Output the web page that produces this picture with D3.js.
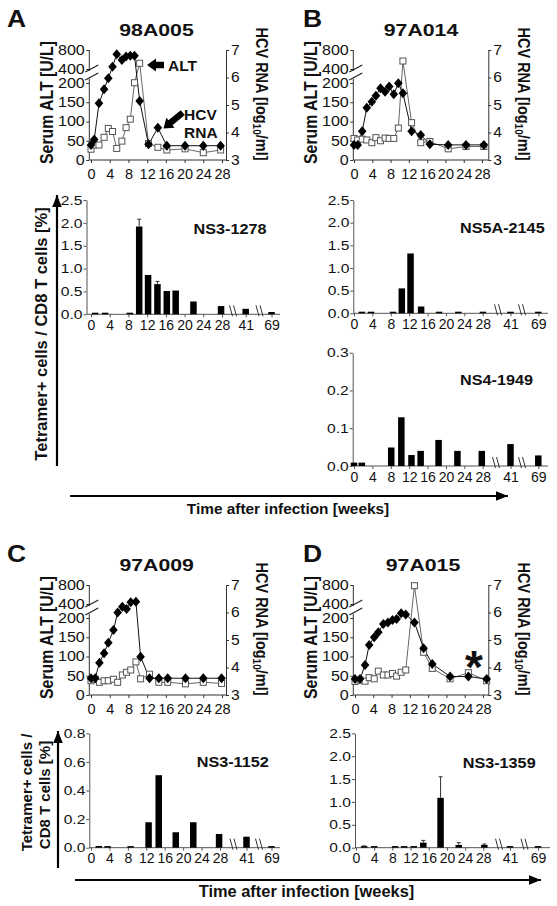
<!DOCTYPE html>
<html><head><meta charset="utf-8">
<script src="https://cdn.jsdelivr.net/npm/d3@7"></script>
<style>body{margin:0;background:#fff}svg{display:block}</style>
</head><body>
<svg id="fig" width="557" height="906"></svg>
<script>
// ---------------- DATA ----------------
const altTicks = [0, 50, 100, 150, 200, 400, 800];
const rnaTicks = [3, 4, 5, 6, 7];
const weekTicks = [0, 4, 8, 12, 16, 20, 24, 28];
const barTicks = [0, 4, 8, 12, 16, 20, 24, 28, 41, 69];

// Panel A (98A005)
const weeksA = [0, 0.7, 1.7, 2.8, 3.7, 4.6, 5.5, 6.6, 7.5, 8.4, 9.3, 10.4, 12.3, 14.3, 16.2, 20.1, 24, 27.7];
const rnaA = [3.55, 3.75, 5.06, 5.57, 5.97, 6.39, 6.85, 6.64, 6.76, 6.79, 6.79, 5.15, 3.57, 4.17, 3.52, 3.52, 3.52, 3.52];
const altA = [28, 39, 39, 59, 82, 74, 30, 49, 84, 106, 204, 520, 43, 33, 26, 29, 19, 26];
// Panel B (97A014)
const weeksB = [0, 0.8, 1.8, 2.8, 3.9, 4.8, 5.8, 6.8, 7.7, 8.7, 9.7, 10.7, 12.6, 14.6, 16.6, 20.6, 24.5, 28.4];
const rnaB = [3.55, 3.55, 4.05, 4.9, 5.12, 5.34, 5.61, 5.48, 5.67, 5.39, 5.79, 5.43, 4.05, 3.91, 3.57, 3.55, 3.55, 3.55];
const altB = [56, 52, 54, 52, 45, 58, 50, 57, 56, 56, 83, 568, 97, 45, 48, 29, 35, 35];
// Panel C (97A009)
const weeksC = [0, 0.9, 1.8, 2.8, 3.7, 4.8, 5.7, 6.7, 7.6, 8.5, 9.6, 10.6, 12.5, 14.5, 16.4, 20.2, 24, 27.9];
const rnaC = [3.61, 3.61, 4.17, 4.52, 4.9, 5.36, 6.0, 6.21, 6.13, 6.37, 6.39, 4.39, 3.61, 3.61, 3.61, 3.61, 3.61, 3.61];
const altC = [37, 41, 33, 37, 37, 41, 33, 52, 59, 65, 86, 42, 54, 33, 33, 29, 33, 30];
// Panel D (97A015)
const weeksD = [0, 1.1, 2.2, 3.1, 4.2, 5.1, 6.2, 7.2, 8.2, 9.1, 10.1, 11.1, 13, 15, 16.9, 20.8, 24.8, 28.8];
const rnaD = [3.58, 3.58, 4.09, 4.82, 5.1, 5.28, 5.58, 5.64, 5.73, 5.76, 5.97, 5.93, 5.64, 4.7, 4.13, 3.67, 3.67, 3.58];
const altD = [35, 39, 36, 45, 42, 62, 52, 52, 56, 49, 59, 65, 785, 111, 69, 42, 58, 37];

// Tetramer bars
const barWeeksA = [0.9, 3, 8.3, 10.3, 12.2, 14.2, 16.2, 18.1, 21.9, 27.8, 41, 69];
const barValsA = [0.02, 0.015, 0.02, 1.92, 0.86, 0.66, 0.51, 0.52, 0.28, 0.18, 0.12, 0.05];
const barErrA = [0, 0, 0, 0.16, 0, 0.06, 0, 0, 0, 0, 0, 0];

const barWeeksB1 = [1.7, 3.7, 8.5, 10.4, 12.3, 14.6, 18.5, 22.7, 28.1, 41, 69];
const barValsB1 = [0.02, 0.01, 0.01, 0.55, 1.32, 0.15, 0.03, 0.01, 0.01, 0.01, 0.01];

const barWeeksB2 = [0, 1.7, 8.1, 10.3, 12.5, 14.5, 18.4, 22.5, 27.8, 41, 69];
const barValsB2 = [0.009, 0.009, 0.049, 0.129, 0.029, 0.04, 0.069, 0.04, 0.04, 0.058, 0.028];

const barWeeksC = [1.7, 3.6, 8.6, 12.5, 14.7, 18.4, 22.2, 27.8, 41, 69];
const barValsC = [0.012, 0.004, 0.005, 0.178, 0.507, 0.108, 0.178, 0.096, 0.077, 0.003];

const barWeeksD = [1.8, 4.0, 8.6, 10.6, 12.7, 14.8, 18.6, 22.6, 28.5, 41, 69];
const barValsD = [0.03, 0.01, 0.01, 0.01, 0.01, 0.11, 1.09, 0.06, 0.06, 0.02, 0.01];
const barErrD = [0.01, 0, 0, 0, 0, 0.05, 0.46, 0.05, 0.02, 0, 0];

// ---------------- DRAWING ----------------
const FONT = "'Liberation Sans', Arial, Helvetica, sans-serif";
const svg = d3.select('#fig');
svg.append('rect').attr('width', 557).attr('height', 906).attr('fill', '#fff');

function T(x, y, str, o = {}) {
  const rot = o.rot || 0, s = o.sx || 1;
  const sc = rot ? `scale(1,${s})` : `scale(${s},1)`;
  return svg.append('text')
    .attr('transform', `translate(${x},${y}) rotate(${rot}) ${sc}`)
    .attr('text-anchor', o.anchor || 'start')
    .attr('font-family', FONT).attr('font-size', o.size || 12)
    .attr('font-weight', o.bold ? 'bold' : 'normal')
    .attr('fill', o.fill || '#111').text(str);
}

function styleTicks(sel, size, sx, anchor, off, col) {
  sel.selectAll('text').attr('font-family', FONT).attr('font-size', size).attr('fill', '#111')
    .attr('text-anchor', anchor).attr('x', off / sx).attr('transform', `scale(${sx},1)`);
  sel.selectAll('line').attr('stroke', col);
  sel.select('.domain').attr('stroke', col);
}

function lineChart(c) {
  const x = d3.scaleLinear().domain([0, 28]).range([c.x0, c.x28]);
  const yAlt = d3.scaleLinear().domain([0, 200, 400, 800]).range([c.y0, c.y0 - 77, c.y0 - 91, c.y0 - 110]);
  const yRna = d3.scaleLinear().domain([3, 7]).range([c.y0, c.y0 - 110]);
  const g = svg.append('g');
  const col = '#333';
  // left axis (broken)
  const la = g.append('g').attr('transform', `translate(${c.ax},0)`)
    .call(d3.axisLeft(yAlt).tickValues(altTicks).tickSize(3).tickSizeOuter(0).tickFormat(d3.format('d')));
  la.select('.domain').remove();
  styleTicks(la, 14, 1.15, 'end', -4.5, col);
  g.append('line').attr('x1', c.ax).attr('x2', c.ax).attr('y1', c.y0 - 110).attr('y2', c.y0 - 89).attr('stroke', col);
  g.append('line').attr('x1', c.ax).attr('x2', c.ax).attr('y1', c.y0 - 81).attr('y2', c.y0).attr('stroke', col);
  [[-88, -95], [-80, -87]].forEach(([a, b]) => {
    g.append('line').attr('x1', c.ax - 4).attr('y1', c.y0 + a).attr('x2', c.ax + 9).attr('y2', c.y0 + b)
      .attr('stroke', '#222').attr('stroke-width', 1.2);
  });
  // right axis
  const ra = g.append('g').attr('transform', `translate(${c.bx},0)`)
    .call(d3.axisRight(yRna).tickValues(rnaTicks).tickSize(3).tickSizeOuter(0).tickFormat(d3.format('d')));
  styleTicks(ra, 14, 1.12, 'start', 5, col);
  // bottom axis
  const xa = g.append('g').attr('transform', `translate(0,${c.y0})`)
    .call(d3.axisBottom(x).tickValues(weekTicks).tickSize(3).tickSizeOuter(0));
  xa.select('.domain').remove();
  xa.selectAll('line').attr('stroke', col);
  xa.selectAll('text').attr('font-family', FONT).attr('font-size', 14.5).attr('fill', '#111').attr('y', 18.5).attr('dy', 0);
  g.append('line').attr('x1', c.ax).attr('x2', c.bx).attr('y1', c.y0).attr('y2', c.y0).attr('stroke', col);

  const idx = d3.range(c.weeks.length);
  const lAlt = d3.line().x(i => x(c.weeks[i])).y(i => yAlt(c.alt[i]));
  const lRna = d3.line().x(i => x(c.weeks[i])).y(i => yRna(c.rna[i]));
  g.append('path').attr('d', lAlt(idx)).attr('fill', 'none').attr('stroke', '#666').attr('stroke-width', 1);
  g.append('path').attr('d', lRna(idx)).attr('fill', 'none').attr('stroke', '#111').attr('stroke-width', 1);
  g.selectAll(null).data(idx).enter().append('rect')
    .attr('x', i => x(c.weeks[i]) - 3).attr('y', i => yAlt(c.alt[i]) - 3)
    .attr('width', 6).attr('height', 6).attr('fill', '#fff').attr('stroke', '#555').attr('stroke-width', 1);
  g.selectAll(null).data(idx).enter().append('path')
    .attr('d', 'M0,-5L4.3,0L0,5L-4.3,0Z')
    .attr('transform', i => `translate(${x(c.weeks[i])},${yRna(c.rna[i])})`)
    .attr('fill', '#000');

  // labels
  T(c.titleX, c.y0 - 124, c.title, { size: 17, bold: true, anchor: 'middle', sx: 1.25 });
  T(c.ax - 36, c.y0 - 57.5, 'Serum ALT [U/L]', { size: 15.8, bold: true, anchor: 'middle', rot: -90, sx: 1.12 });
  const r = T(c.bx + 30, c.y0 - 66, '', { size: 14.5, bold: true, anchor: 'middle', rot: 90, sx: 1.1 });
  r.append('tspan').text('HCV RNA [log');
  r.append('tspan').attr('font-size', 10).attr('dy', 3).text('10');
  r.append('tspan').attr('dy', -3).text('/ml]');
  T(c.letterX, c.y0 - 133, c.letter, { size: 23, bold: true, sx: 1.15 });
}

function barChart(c) {
  const x = d3.scaleLinear().domain([0, 28, 41, 69]).range(c.xr);
  const y = d3.scaleLinear().domain([0, c.ymax]).range([c.yb, c.yt]);
  const g = svg.append('g');
  const col = '#555';
  const ya = g.append('g').attr('transform', `translate(${c.ax},0)`)
    .call(d3.axisLeft(y).tickValues(c.yticks).tickSize(3).tickSizeOuter(0).tickFormat(d3.format('.1f')));
  styleTicks(ya, 13, 1.2, 'end', -4, col);
  const xa = g.append('g').attr('transform', `translate(0,${c.yb})`)
    .call(d3.axisBottom(x).tickValues(barTicks).tickSize(3).tickSizeOuter(0));
  xa.select('.domain').remove();
  xa.selectAll('line').attr('stroke', col);
  xa.selectAll('text').attr('font-family', FONT).attr('font-size', 14).attr('fill', '#111').attr('y', 15.5).attr('dy', 0);
  g.append('line').attr('x1', c.ax).attr('x2', c.xend).attr('y1', c.yb).attr('y2', c.yb).attr('stroke', col);
  c.breaks.forEach(bx => {
    [-3.5, 0.5].forEach(o => {
      g.append('line').attr('x1', bx + o).attr('y1', c.yb - 9).attr('x2', bx + o + 3).attr('y2', c.yb + 2)
        .attr('stroke', '#333').attr('stroke-width', 1);
    });
  });
  const idx = d3.range(c.weeks.length);
  const bw = 6.5;
  g.selectAll(null).data(idx).enter().append('rect')
    .attr('x', i => x(c.weeks[i]) - bw / 2)
    .attr('y', i => Math.min(y(c.vals[i]), c.yb - 1.6))
    .attr('width', bw)
    .attr('height', i => Math.max(c.yb - y(c.vals[i]), 1.6))
    .attr('fill', '#000');
  if (c.errs) {
    idx.filter(i => c.errs[i] > 0).forEach(i => {
      const xc = x(c.weeks[i]), top = y(c.vals[i] + c.errs[i]);
      g.append('line').attr('x1', xc).attr('x2', xc).attr('y1', y(c.vals[i])).attr('y2', top).attr('stroke', '#333');
      g.append('line').attr('x1', xc - 2).attr('x2', xc + 2).attr('y1', top).attr('y2', top).attr('stroke', '#333');
    });
  }
  T(c.lx, c.ly, c.label, { size: 15, bold: true, sx: 1.08 });
}

// top line charts
lineChart({ ax: 89.3, bx: 226, y0: 160, x0: 91, x28: 222, weeks: weeksA, rna: rnaA, alt: altA, title: '98A005', titleX: 156.5, letter: 'A', letterX: 7 });
lineChart({ ax: 353.3, bx: 488.3, y0: 160, x0: 354, x28: 482, weeks: weeksB, rna: rnaB, alt: altB, title: '97A014', titleX: 421, letter: 'B', letterX: 303 });
lineChart({ ax: 89.3, bx: 226, y0: 695, x0: 91, x28: 222, weeks: weeksC, rna: rnaC, alt: altC, title: '97A009', titleX: 156.7, letter: 'C', letterX: 7 });
lineChart({ ax: 353.3, bx: 488.3, y0: 695, x0: 355, x28: 483, weeks: weeksD, rna: rnaD, alt: altD, title: '97A015', titleX: 423, letter: 'D', letterX: 303 });

// bar charts
barChart({ ax: 86.5, yb: 314.3, yt: 200, ymax: 2.5, yticks: [0, 0.5, 1, 1.5, 2, 2.5], xr: [91, 222, 245.7, 271.5], xend: 280, breaks: [233, 259.5], weeks: barWeeksA, vals: barValsA, errs: barErrA, label: 'NS3-1278', lx: 193.5, ly: 234.3 });
barChart({ ax: 353.3, yb: 313.3, yt: 200, ymax: 2.5, yticks: [0, 0.5, 1, 1.5, 2, 2.5], xr: [354, 482.7, 510.5, 538.3], xend: 548, breaks: [498, 522], weeks: barWeeksB1, vals: barValsB1, label: 'NS5A-2145', lx: 460, ly: 233.3 });
barChart({ ax: 352.7, yb: 466, yt: 352.7, ymax: 0.3, yticks: [0, 0.1, 0.2, 0.3], xr: [354, 482.7, 510.5, 538.3], xend: 548, breaks: [496, 522], weeks: barWeeksB2, vals: barValsB2, label: 'NS4-1949', lx: 460, ly: 385 });
barChart({ ax: 89.3, yb: 847.7, yt: 733.3, ymax: 0.8, yticks: [0, 0.2, 0.4, 0.6, 0.8], xr: [91, 220, 246.5, 271.5], xend: 280, breaks: [233.5, 259], weeks: barWeeksC, vals: barValsC, label: 'NS3-1152', lx: 196.7, ly: 766.7 });
barChart({ ax: 355, yb: 847.7, yt: 733.3, ymax: 2.5, yticks: [0, 0.5, 1, 1.5, 2, 2.5], xr: [356, 483.3, 510, 538], xend: 550, breaks: [499, 524.5], weeks: barWeeksD, vals: barValsD, errs: barErrD, label: 'NS3-1359', lx: 462.7, ly: 768.3 });

// annotation arrows in A
function blockArrow(tx, ty, ang, len) {
  svg.append('path')
    .attr('d', `M0,0L-9,-6.5L-9,-3.2L${-len},-3.2L${-len},3.2L-9,3.2L-9,6.5Z`)
    .attr('transform', `translate(${tx},${ty}) rotate(${ang})`).attr('fill', '#000');
}
blockArrow(147, 65, 180, 17);
blockArrow(163.5, 128.5, 140.6, 25);
T(168, 71, 'ALT', { size: 15.5, bold: true });
T(184, 120, 'HCV', { size: 15.5, bold: true });
T(184, 138, 'RNA', { size: 15.5, bold: true });
T(474, 683, '*', { size: 46, bold: true, anchor: 'middle' });

// big axis arrows
function arrowLine(x1, y1, x2, y2) {
  svg.append('line').attr('x1', x1).attr('y1', y1).attr('x2', x2).attr('y2', y2)
    .attr('stroke', '#000').attr('stroke-width', 2.2);
  const ang = Math.atan2(y2 - y1, x2 - x1) * 180 / Math.PI;
  svg.append('path').attr('d', 'M0,0L-12,-4.8L-12,4.8Z')
    .attr('transform', `translate(${x2},${y2}) rotate(${ang})`).attr('fill', '#000');
}
arrowLine(57, 466, 57, 195);
arrowLine(70, 496, 508, 496);
arrowLine(58, 868, 58, 731);
arrowLine(75, 880, 541, 880);

T(46.5, 334, 'Tetramer+ cells / CD8 T cells [%]', { size: 16.5, bold: true, anchor: 'middle', rot: -90 });
T(31.5, 792.5, 'Tetramer+ cells /', { size: 15, bold: true, anchor: 'middle', rot: -90 });
T(49.5, 795, 'CD8 T cells [%]', { size: 15, bold: true, anchor: 'middle', rot: -90 });
T(288, 513.5, 'Time after infection [weeks]', { size: 15.4, bold: true, anchor: 'middle' });
T(306.5, 897, 'Time after infection [weeks]', { size: 16.4, bold: true, anchor: 'middle' });
</script>
</body></html>
